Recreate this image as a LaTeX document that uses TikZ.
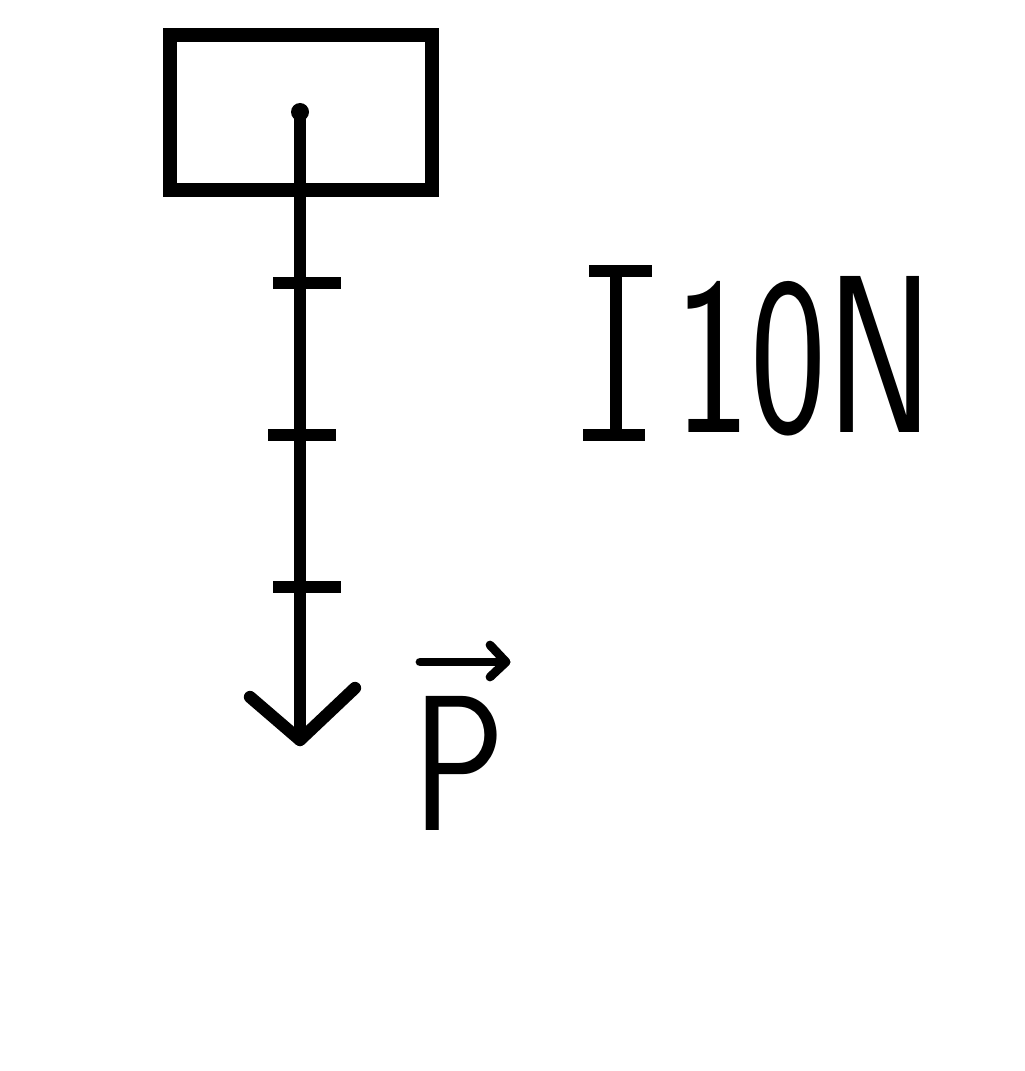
\documentclass[tikz,border=0pt]{standalone}
\usetikzlibrary{calc}
\begin{document}
\begin{tikzpicture}[x=0.02cm,y=-0.02cm,
  stroke/.style={line width=7pt,line cap=round,line join=round},
  thick stroke/.style={line width=8pt,line join=miter},
  tick/.style={line width=7pt},
  thin stroke/.style={line width=5pt,line cap=round,line join=round}]
\useasboundingbox[fill=white] (0,0) rectangle (1024,1071);
% body
\node[draw,thick stroke,minimum width=5.24cm,minimum height=3.1cm,inner sep=0pt] (box) at (301,112.5) {};
\coordinate (top) at (300,112);
\coordinate (tip) at (300,740);
\fill (top) circle (9);
\draw[stroke] (top) -- (tip);
\draw[stroke] ($(tip)+(-50,-43)$) -- (tip) -- ($(tip)+(55,-52)$);
% ticks
\coordinate (t1) at (307,283);
\coordinate (t2) at (302,435);
\coordinate (t3) at (307,587);
\foreach \t in {t1,t2,t3} \draw[tick] ($(\t)+(-34,0)$) -- ($(\t)+(34,0)$);
% label P
\node[xscale=0.8,inner sep=0pt,anchor=base west] (P) at (412,830) {\fontsize{110}{110}\selectfont\sffamily P};
\coordinate (va) at (420,662);
\coordinate (vb) at (506,662);
\draw[thin stroke] (va) -- (vb);
\draw[thin stroke] ($(vb)+(-16,-17)$) -- (vb) -- ($(vb)+(-16,15)$);
% scale
\coordinate (sc) at (616,353);
\draw[tick] ($(sc)+(0,-82)$) -- ($(sc)+(0,82)$);
\draw[tick] ($(sc)+(-27,-82)$) -- ($(sc)+(36,-82)$);
\draw[tick] ($(sc)+(-33,82)$) -- ($(sc)+(29,82)$);
\node[xscale=0.72,inner sep=0pt,anchor=base west] (ten) at (674,432) {\fontsize{128}{128}\selectfont\sffamily 10N};
\end{tikzpicture}
\end{document}
